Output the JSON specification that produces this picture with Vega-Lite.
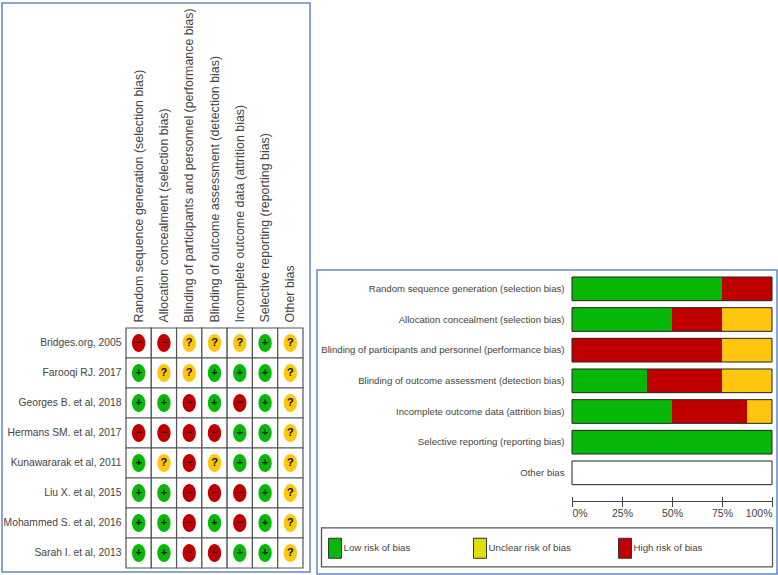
{"$schema":"https://vega.github.io/schema/vega-lite/v6.json","background":"white","padding":{"left":1,"top":2,"right":1,"bottom":1},"autosize":{"type":"pad"},"spacing":5,"config":{"axis":{"grid":false},"concat":{"spacing":5}},"datasets":{"matrix":[
{"study":"Bridges.org, 2005","bias":"Random sequence generation (selection bias)","rating":"−"},{"study":"Bridges.org, 2005","bias":"Allocation concealment (selection bias)","rating":"−"},{"study":"Bridges.org, 2005","bias":"Blinding of participants and personnel (performance bias)","rating":"?"},{"study":"Bridges.org, 2005","bias":"Blinding of outcome assessment (detection bias)","rating":"?"},{"study":"Bridges.org, 2005","bias":"Incomplete outcome data (attrition bias)","rating":"?"},{"study":"Bridges.org, 2005","bias":"Selective reporting (reporting bias)","rating":"+"},{"study":"Bridges.org, 2005","bias":"Other bias","rating":"?"},
{"study":"Farooqi RJ. 2017","bias":"Random sequence generation (selection bias)","rating":"+"},{"study":"Farooqi RJ. 2017","bias":"Allocation concealment (selection bias)","rating":"?"},{"study":"Farooqi RJ. 2017","bias":"Blinding of participants and personnel (performance bias)","rating":"?"},{"study":"Farooqi RJ. 2017","bias":"Blinding of outcome assessment (detection bias)","rating":"+"},{"study":"Farooqi RJ. 2017","bias":"Incomplete outcome data (attrition bias)","rating":"+"},{"study":"Farooqi RJ. 2017","bias":"Selective reporting (reporting bias)","rating":"+"},{"study":"Farooqi RJ. 2017","bias":"Other bias","rating":"?"},
{"study":"Georges B. et al, 2018","bias":"Random sequence generation (selection bias)","rating":"+"},{"study":"Georges B. et al, 2018","bias":"Allocation concealment (selection bias)","rating":"+"},{"study":"Georges B. et al, 2018","bias":"Blinding of participants and personnel (performance bias)","rating":"−"},{"study":"Georges B. et al, 2018","bias":"Blinding of outcome assessment (detection bias)","rating":"+"},{"study":"Georges B. et al, 2018","bias":"Incomplete outcome data (attrition bias)","rating":"−"},{"study":"Georges B. et al, 2018","bias":"Selective reporting (reporting bias)","rating":"+"},{"study":"Georges B. et al, 2018","bias":"Other bias","rating":"?"},
{"study":"Hermans SM. et al, 2017","bias":"Random sequence generation (selection bias)","rating":"−"},{"study":"Hermans SM. et al, 2017","bias":"Allocation concealment (selection bias)","rating":"−"},{"study":"Hermans SM. et al, 2017","bias":"Blinding of participants and personnel (performance bias)","rating":"−"},{"study":"Hermans SM. et al, 2017","bias":"Blinding of outcome assessment (detection bias)","rating":"−"},{"study":"Hermans SM. et al, 2017","bias":"Incomplete outcome data (attrition bias)","rating":"+"},{"study":"Hermans SM. et al, 2017","bias":"Selective reporting (reporting bias)","rating":"+"},{"study":"Hermans SM. et al, 2017","bias":"Other bias","rating":"?"},
{"study":"Kunawararak et al, 2011","bias":"Random sequence generation (selection bias)","rating":"+"},{"study":"Kunawararak et al, 2011","bias":"Allocation concealment (selection bias)","rating":"?"},{"study":"Kunawararak et al, 2011","bias":"Blinding of participants and personnel (performance bias)","rating":"−"},{"study":"Kunawararak et al, 2011","bias":"Blinding of outcome assessment (detection bias)","rating":"?"},{"study":"Kunawararak et al, 2011","bias":"Incomplete outcome data (attrition bias)","rating":"+"},{"study":"Kunawararak et al, 2011","bias":"Selective reporting (reporting bias)","rating":"+"},{"study":"Kunawararak et al, 2011","bias":"Other bias","rating":"?"},
{"study":"Liu X. et al, 2015","bias":"Random sequence generation (selection bias)","rating":"+"},{"study":"Liu X. et al, 2015","bias":"Allocation concealment (selection bias)","rating":"+"},{"study":"Liu X. et al, 2015","bias":"Blinding of participants and personnel (performance bias)","rating":"−"},{"study":"Liu X. et al, 2015","bias":"Blinding of outcome assessment (detection bias)","rating":"−"},{"study":"Liu X. et al, 2015","bias":"Incomplete outcome data (attrition bias)","rating":"−"},{"study":"Liu X. et al, 2015","bias":"Selective reporting (reporting bias)","rating":"+"},{"study":"Liu X. et al, 2015","bias":"Other bias","rating":"?"},
{"study":"Mohammed S. et al, 2016","bias":"Random sequence generation (selection bias)","rating":"+"},{"study":"Mohammed S. et al, 2016","bias":"Allocation concealment (selection bias)","rating":"+"},{"study":"Mohammed S. et al, 2016","bias":"Blinding of participants and personnel (performance bias)","rating":"−"},{"study":"Mohammed S. et al, 2016","bias":"Blinding of outcome assessment (detection bias)","rating":"+"},{"study":"Mohammed S. et al, 2016","bias":"Incomplete outcome data (attrition bias)","rating":"−"},{"study":"Mohammed S. et al, 2016","bias":"Selective reporting (reporting bias)","rating":"+"},{"study":"Mohammed S. et al, 2016","bias":"Other bias","rating":"?"},
{"study":"Sarah I. et al, 2013","bias":"Random sequence generation (selection bias)","rating":"+"},{"study":"Sarah I. et al, 2013","bias":"Allocation concealment (selection bias)","rating":"+"},{"study":"Sarah I. et al, 2013","bias":"Blinding of participants and personnel (performance bias)","rating":"−"},{"study":"Sarah I. et al, 2013","bias":"Blinding of outcome assessment (detection bias)","rating":"−"},{"study":"Sarah I. et al, 2013","bias":"Incomplete outcome data (attrition bias)","rating":"+"},{"study":"Sarah I. et al, 2013","bias":"Selective reporting (reporting bias)","rating":"+"},{"study":"Sarah I. et al, 2013","bias":"Other bias","rating":"?"}
],"summary":[
{"bias":"Random sequence generation (selection bias)","risk":"Low risk of bias","percent":75,"rank":1},{"bias":"Random sequence generation (selection bias)","risk":"High risk of bias","percent":25,"rank":2},
{"bias":"Allocation concealment (selection bias)","risk":"Low risk of bias","percent":50,"rank":1},{"bias":"Allocation concealment (selection bias)","risk":"High risk of bias","percent":25,"rank":2},{"bias":"Allocation concealment (selection bias)","risk":"Unclear risk of bias","percent":25,"rank":3},
{"bias":"Blinding of participants and personnel (performance bias)","risk":"High risk of bias","percent":75,"rank":2},{"bias":"Blinding of participants and personnel (performance bias)","risk":"Unclear risk of bias","percent":25,"rank":3},
{"bias":"Blinding of outcome assessment (detection bias)","risk":"Low risk of bias","percent":37.5,"rank":1},{"bias":"Blinding of outcome assessment (detection bias)","risk":"High risk of bias","percent":37.5,"rank":2},{"bias":"Blinding of outcome assessment (detection bias)","risk":"Unclear risk of bias","percent":25,"rank":3},
{"bias":"Incomplete outcome data (attrition bias)","risk":"Low risk of bias","percent":50,"rank":1},{"bias":"Incomplete outcome data (attrition bias)","risk":"High risk of bias","percent":37.5,"rank":2},{"bias":"Incomplete outcome data (attrition bias)","risk":"Unclear risk of bias","percent":12.5,"rank":3},
{"bias":"Selective reporting (reporting bias)","risk":"Low risk of bias","percent":100,"rank":1}
],"rows":[{"bias":"Random sequence generation (selection bias)"},{"bias":"Allocation concealment (selection bias)"},{"bias":"Blinding of participants and personnel (performance bias)"},{"bias":"Blinding of outcome assessment (detection bias)"},{"bias":"Incomplete outcome data (attrition bias)"},{"bias":"Selective reporting (reporting bias)"},{"bias":"Other bias"}]},
"hconcat":[
{"width":308,"height":569,"view":{"stroke":"#5f86c6","strokeWidth":1.5},"data":{"name":"matrix"},
"encoding":{
"x":{"field":"bias","type":"nominal","sort":null,"scale":{"type":"band","range":[124,301],"paddingInner":0,"paddingOuter":0,"domain":["Random sequence generation (selection bias)","Allocation concealment (selection bias)","Blinding of participants and personnel (performance bias)","Blinding of outcome assessment (detection bias)","Incomplete outcome data (attrition bias)","Selective reporting (reporting bias)","Other bias"]},"axis":{"orient":"top","offset":-325,"title":null,"domain":false,"ticks":false,"labelAngle":270,"labelAlign":"left","labelBaseline":"middle","labelPadding":6,"labelFont":"Liberation Sans","labelFontSize":12.4,"labelColor":"#444","labelLimit":400}},
"y":{"field":"study","type":"nominal","sort":null,"scale":{"type":"band","range":[325,565],"paddingInner":0,"paddingOuter":0},"axis":{"orient":"left","offset":-124,"title":null,"domain":false,"ticks":false,"labelPadding":5,"labelFont":"Liberation Sans","labelFontSize":10.3,"labelColor":"#444","labelLimit":200}}},
"layer":[
{"mark":{"type":"rect","fill":"white","stroke":"#555","strokeWidth":1.2}},
{"mark":{"type":"point","filled":true,"opacity":1,"shape":"M-0.74,0A0.74,1 0 1 0 0.74,0A0.74,1 0 1 0 -0.74,0Z","size":324},"encoding":{"color":{"field":"rating","type":"nominal","legend":null,"scale":{"domain":["+","?","−"],"range":["#08b808","#ffc60f","#c00000"]}}}},
{"mark":{"type":"text","font":"Liberation Sans","fontWeight":"bold","fontSize":11,"color":"#111","baseline":"middle"},"encoding":{"text":{"field":"rating","type":"nominal"}}}
]},
{"spacing":10,"vconcat":[
{"width":460,"height":256,"view":{"stroke":null},"data":{"values":[]},"mark":"point","encoding":{}},
{"width":460,"height":304,"view":{"stroke":"#5f86c6","strokeWidth":1.5},
"resolve":{"axis":{"x":"independent"},"scale":{"color":"independent"}},
"encoding":{"y":{"field":"bias","type":"nominal","sort":null,"scale":{"type":"band","range":[7,276],"paddingInner":0.228,"paddingOuter":0,"domain":["Random sequence generation (selection bias)","Allocation concealment (selection bias)","Blinding of participants and personnel (performance bias)","Blinding of outcome assessment (detection bias)","Incomplete outcome data (attrition bias)","Selective reporting (reporting bias)","Other bias","axis","legend"]},"axis":{"orient":"left","offset":-255,"title":null,"domain":false,"ticks":false,"values":["Random sequence generation (selection bias)","Allocation concealment (selection bias)","Blinding of participants and personnel (performance bias)","Blinding of outcome assessment (detection bias)","Incomplete outcome data (attrition bias)","Selective reporting (reporting bias)","Other bias"],"labelPadding":8,"labelFont":"Liberation Sans","labelFontSize":9.6,"labelColor":"#444","labelLimit":300}}},
"layer":[
{"data":{"name":"summary"},"mark":{"type":"bar"},"encoding":{
"x":{"field":"percent","type":"quantitative","stack":"zero","scale":{"domain":[0,100],"range":[255,455],"nice":false,"zero":false},"axis":{"orient":"bottom","offset":-73,"title":null,"values":[0,25,50,75,100],"ticks":false,"domain":true,"domainColor":"#444","labelExpr":"datum.value+'%'","labelFlush":true,"labelPadding":7,"labelFont":"Liberation Sans","labelFontSize":10.5,"labelColor":"#444"}},
"order":{"field":"rank","type":"ordinal"},
"color":{"field":"risk","type":"nominal","legend":null,"scale":{"domain":["Low risk of bias","Unclear risk of bias","High risk of bias"],"range":["#08b808","#ffc60f","#c00000"]}}
}},
{"data":{"name":"rows"},"mark":{"type":"bar","fill":null,"fillOpacity":0,"stroke":"#222","strokeWidth":1},"encoding":{
"x":{"datum":0,"type":"quantitative","axis":{"orient":"bottom","offset":-77.5,"title":null,"values":[0,25,50,75,100],"labels":false,"domain":false,"ticks":true,"tickSize":10,"tickColor":"#444"}},
"x2":{"datum":100}}},
{"data":{"values":[{"bias":"legend"}]},"mark":{"type":"bar","fill":null,"fillOpacity":0,"stroke":"#555","strokeWidth":1.3,"height":39,"yOffset":13.3},"encoding":{
"x":{"datum":-125.25,"type":"quantitative","axis":null},
"x2":{"datum":100.25}}},
{"data":{"values":[{"risk":"Low risk of bias","bias":"legend"},{"risk":"Unclear risk of bias","bias":"legend"},{"risk":"High risk of bias","bias":"legend"}]},"mark":{"type":"bar","strokeWidth":0},"encoding":{
"x":{"datum":0,"type":"quantitative","axis":null},
"x2":{"datum":0},
"color":{"field":"risk","type":"nominal","scale":{"domain":["Low risk of bias","Unclear risk of bias","High risk of bias"],"range":["#08b808","#e0e000","#c00000"]},"legend":{"orient":"none","legendX":7.5,"legendY":267.5,"direction":"horizontal","columns":3,"title":null,"gridAlign":"all","columnPadding":43,"padding":0,"symbolSize":400,"symbolType":"M-0.65,-1H0.65V1H-0.65Z","symbolStrokeColor":"#333","symbolStrokeWidth":1,"symbolOpacity":1,"labelFont":"Liberation Sans","labelFontSize":9.7,"labelColor":"#444","labelOffset":-2,"labelLimit":200}}
}}
]}
]}
]}
